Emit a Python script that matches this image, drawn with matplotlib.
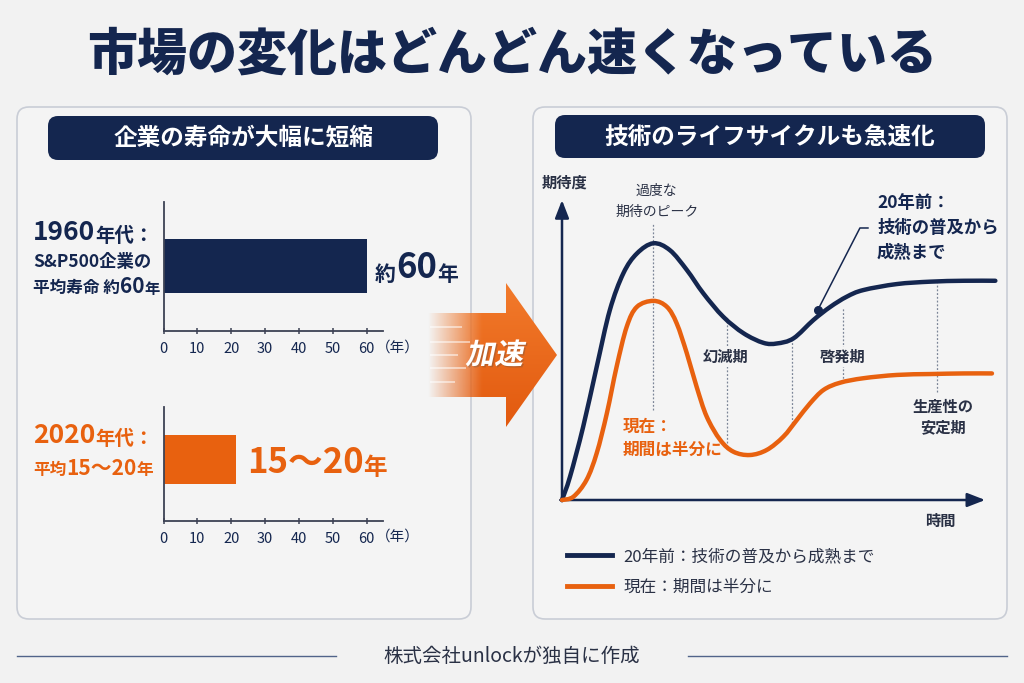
import numpy as np
import matplotlib
matplotlib.use("Agg")
import matplotlib.pyplot as plt
from matplotlib.patches import FancyBboxPatch, Polygon, PathPatch
from matplotlib.textpath import TextPath
from matplotlib.font_manager import FontProperties
from matplotlib.transforms import Affine2D
from matplotlib.path import Path
from matplotlib.lines import Line2D
import matplotlib.patheffects as pe

plt.rcParams['font.family'] = ['Noto Sans CJK JP', 'DejaVu Sans']

# ---- data ----
bar_labels = ['1960年代', '2020年代']
bar_values = [60, 21.5]
bar_ticks = [0, 10, 20, 30, 40, 50, 60]

# hype cycle, 20 years ago (time, expectation)
old_t = [0, 1.9, 5.0, 8.2, 11.3, 14.5, 17.7, 21.6, 25.5, 29.5, 33.4, 38.1, 42.9,
         47.6, 50.8, 54.7, 59.4, 63.4, 67.3, 71.2, 79.1, 87.0, 94.9, 102.4]
old_y = [0, 7.8, 24.4, 44.4, 63.3, 75.6, 82.2, 85.6, 83.3, 76.7, 68.9, 61.1, 55.6,
         52.4, 52.2, 53.9, 60.0, 64.4, 67.8, 70.0, 72.0, 72.8, 73.1, 73.1]
# hype cycle, now
now_t = [0, 2.7, 5.8, 8.2, 10.6, 12.9, 15.3, 17.7, 21.6, 24.8, 27.1, 29.5, 31.8, 34.2,
         37.4, 40.5, 44.4, 48.4, 52.3, 55.5, 58.6, 61.8, 65.7, 71.2, 79.1, 87.0, 94.9, 101.6]
now_y = [0, 1.1, 6.7, 15.6, 28.9, 44.4, 57.8, 64.4, 66.4, 64.4, 58.9, 48.9, 37.8, 27.8,
         20.0, 16.1, 15.0, 16.7, 21.1, 26.7, 32.2, 36.7, 39.1, 40.6, 41.7, 42.0, 42.2, 42.2]

phase_x = [21.6, 38.9, 54.4, 66.5, 88.7]
phase_lo = [30.0, 18.9, 24.4, 39.4, 36.1]
phase_hi = [92.3, 61.1, 53.3, 64.4, 72.2]

legend_labels = ['20年前：技術の普及から成熟まで', '現在：期間は半分に']

NAVY = '#14264f'
ORANGE = '#e8610f'
BG = '#f2f2f2'
PANEL = '#f4f4f4'
EDGE = '#c9cdd6'
TEXT = '#2a3145'

W, H = 1024, 683
fig = plt.figure(figsize=(10.24, 6.83), dpi=100, facecolor=BG)

back = fig.add_axes([0, 0, 1, 1], zorder=0)
back.set_xlim(0, W); back.set_ylim(H, 0); back.axis('off')


def px_axes(x0, y0, x1, y1, z=2):
    a = fig.add_axes([x0 / W, 1 - y1 / H, (x1 - x0) / W, (y1 - y0) / H], zorder=z)
    a.patch.set_alpha(0)
    return a


def smooth_path(xs, ys):
    # catmull-rom through the read points, as cubic bezier segments
    pts = np.column_stack([xs, ys]).astype(float)
    verts = [pts[0]]
    codes = [Path.MOVETO]
    n = len(pts)
    for i in range(n - 1):
        p0 = pts[i - 1] if i > 0 else pts[i]
        p1, p2 = pts[i], pts[i + 1]
        p3 = pts[i + 2] if i + 2 < n else pts[i + 1]
        verts += [p1 + (p2 - p0) / 6, p2 - (p3 - p1) / 6, p2]
        codes += [Path.CURVE4] * 3
    return Path(verts, codes)


# panels + header pills
for x0, x1 in [(17, 471), (533, 1007)]:
    back.add_patch(FancyBboxPatch((x0, 107), x1 - x0, 512, boxstyle='round,pad=0,rounding_size=12',
                                  fc=PANEL, ec=EDGE, lw=1.2))
for x0, x1, y0, y1 in [(48, 438, 116, 160), (555, 985, 115, 158)]:
    back.add_patch(FancyBboxPatch((x0, y0), x1 - x0, y1 - y0, boxstyle='round,pad=0,rounding_size=10',
                                  fc=NAVY, ec='none'))

# ---- bar charts ----
def bar_axes(ax, val, color, yc, h):
    ax.barh(yc, val, height=h, color=color)
    ax.set_xlim(0, 64.9)
    ax.set_ylim(0, 1)
    ax.set_yticks([])
    ax.set_xticks(bar_ticks)
    for s in ['top', 'right']:
        ax.spines[s].set_visible(False)
    for s in ['left', 'bottom']:
        ax.spines[s].set_color('#3d4254')
        ax.spines[s].set_linewidth(1.3)
    ax.tick_params(axis='x', direction='inout', length=4, width=1.1, color='#3d4254',
                   labelsize=10.5, labelcolor=NAVY, pad=6)


ax1 = px_axes(163.5, 202, 383.3, 331)
bar_axes(ax1, bar_values[0], NAVY, 0.504, 0.414)
ax2 = px_axes(163.5, 407, 383.3, 521)
bar_axes(ax2, bar_values[1], ORANGE, 0.54, 0.43)

# ---- hype-cycle chart ----
axr = px_axes(562, 195, 1000, 500)
axr.set_xlim(0, 103.5)
axr.set_ylim(0, 101.7)
axr.axis('off')
axr.vlines(phase_x, phase_lo, phase_hi, colors='#7c8597', linestyles=(0, (1.5, 1.5)), lw=0.9, zorder=1)
arr = dict(arrowstyle='-|>,head_length=0.9,head_width=0.35', color=NAVY, lw=1.8,
           mutation_scale=12, shrinkA=0, shrinkB=0)
axr.annotate('', xy=(100, 0), xytext=(-0.4, 0), arrowprops=arr, annotation_clip=False)
axr.annotate('', xy=(0, 100), xytext=(0, -0.4), arrowprops=arr, annotation_clip=False)
for tt, yy, col, z in [(old_t, old_y, NAVY, 3), (now_t, now_y, ORANGE, 4)]:
    axr.add_patch(PathPatch(smooth_path(tt, yy), fc='none', ec=col, lw=3.2, capstyle='round',
                            joinstyle='round', zorder=z, clip_on=False))
axr.plot([60.5, 70.4, 72.3], [63.5, 90.7, 90.7], color=NAVY, lw=1.1, zorder=3)
axr.plot([60.5], [63.5], 'o', ms=5.5, color=NAVY, zorder=5)

handles = [Line2D([], [], color=NAVY, lw=3.5), Line2D([], [], color=ORANGE, lw=3.5)]
fig.legend(handles=handles, labels=legend_labels, loc='upper left',
           bbox_to_anchor=(567 / W, 1 - 548 / H), frameon=False, fontsize=12,
           handlelength=2.7, handletextpad=0.7, labelspacing=0.85,
           borderaxespad=0, borderpad=0, labelcolor=TEXT)

# ---- front layer: text and arrow ----
front = fig.add_axes([0, 0, 1, 1], zorder=10)
front.patch.set_alpha(0)
front.axis('off')

front.text(512, 55, '市場の変化はどんどん速くなっている', fontsize=36, weight='heavy',
           color=NAVY, ha='center', va='center')
front.text(243, 138, '企業の寿命が大幅に短縮', fontsize=17, weight='bold', color='white',
           ha='center', va='center')
front.text(770, 137, '技術のライフサイクルも急速化', fontsize=17, weight='bold', color='white',
           ha='center', va='center')


def runs(x, y, parts, color):
    t = front.text(x, y, parts[0][0], fontsize=parts[0][1], color=color, weight='bold', va='baseline')
    for s, fs in parts[1:]:
        t = front.annotate(s, xy=(1, 0), xycoords=t, fontsize=fs, color=color, weight='bold',
                           va='bottom', ha='left')
    return t


runs(33, 240, [('1960', 19), ('年代：', 14)], NAVY)
runs(33, 267, [('S&P500企業の', 12.5)], NAVY)
runs(33, 293, [('平均寿命 約', 12), ('60', 15), ('年', 11)], NAVY)
runs(375, 281, [('約', 15), ('60', 25), ('年', 15)], NAVY)
runs(33, 443, [('2020', 19), ('年代：', 14)], ORANGE)
runs(33, 475, [('平均', 12), ('15～20', 15), ('年', 12)], ORANGE)
runs(247, 473, [('15～20', 25), ('年', 17)], ORANGE)

for yy in [348, 537]:
    front.text(398, yy, '（年）', fontsize=10.5, color=NAVY, ha='center', va='center')

# chart labels
lab = dict(color=TEXT, ha='center', va='center')
front.text(542, 183, '期待度', fontsize=11, weight='bold', color=TEXT, ha='left', va='center')
front.text(940, 521, '時間', fontsize=11, weight='bold', **lab)
front.text(656, 191, '過度な', fontsize=10, **lab)
front.text(657, 212, '期待のピーク', fontsize=10, **lab)
front.text(726, 357, '幻滅期', fontsize=11, weight='bold',
           bbox=dict(fc=PANEL, ec='none', pad=1.5), **lab)
front.text(843, 357, '啓発期', fontsize=11, weight='bold',
           bbox=dict(fc=PANEL, ec='none', pad=1.5), **lab)
front.text(943, 407, '生産性の', fontsize=11, weight='bold', **lab)
front.text(943, 427, '安定期', fontsize=11, weight='bold', **lab)
front.text(623, 427, '現在：', fontsize=12, weight='bold', color=ORANGE, va='center')
front.text(623, 450, '期間は半分に', fontsize=12, weight='bold', color=ORANGE, va='center')
front.text(877, 203, '20年前：', fontsize=12.5, weight='bold', color=NAVY, va='center')
front.text(877, 228, '技術の普及から', fontsize=12.5, weight='bold', color=NAVY, va='center')
front.text(877, 253, '成熟まで', fontsize=12.5, weight='bold', color=NAVY, va='center')

# acceleration arrow with fading tail
arrow_verts = [(428, 313), (506, 313), (506, 283), (557, 355), (506, 427), (506, 397), (428, 397)]
poly = Polygon(arrow_verts, closed=True, fc='none', ec='none')
front.add_patch(poly)
xs = np.linspace(425, 560, 256)
rows = np.linspace(0, 1, 64)[:, None]
img = np.zeros((64, 256, 4))
c_top = np.array(matplotlib.colors.to_rgb('#f27b2c'))
c_bot = np.array(matplotlib.colors.to_rgb('#e2590e'))
img[..., :3] = c_top * (1 - rows[..., None]) + c_bot * rows[..., None]
img[..., 3] = np.clip((xs - 428) / (482 - 428), 0, 1)[None, :]
im = front.imshow(img, extent=(425, 560, 430, 280), aspect='auto', interpolation='bilinear', zorder=2)
im.set_clip_path(poly)
front.hlines([327, 342, 355, 368, 382], 430, [462, 470, 458, 466, 455], colors='white',
             alpha=0.6, lw=1.2, zorder=3)

fp = FontProperties(family='Noto Sans CJK JP', weight='bold')
tp = TextPath((0, 0), '加速', size=29, prop=fp)
path = Affine2D().skew_deg(12, 0).scale(1, -1).transform_path(tp)
ext = path.get_extents()
path = Affine2D().translate(496 - (ext.x0 + ext.x1) / 2, 353 - (ext.y0 + ext.y1) / 2).transform_path(path)
front.add_patch(PathPatch(path, fc='white', ec='none', zorder=4,
                          path_effects=[pe.SimplePatchShadow(offset=(1, -1), alpha=0.3), pe.Normal()]))

# footer
front.text(512, 656, '株式会社unlockが独自に作成', fontsize=14, color=TEXT, ha='center', va='center')
front.plot([17, 336], [656, 656], color='#51648a', lw=1)
front.plot([688, 1007], [656, 656], color='#51648a', lw=1)

front.set_xlim(0, W)
front.set_ylim(H, 0)

fig.savefig('out.png', dpi=100, facecolor=BG)
